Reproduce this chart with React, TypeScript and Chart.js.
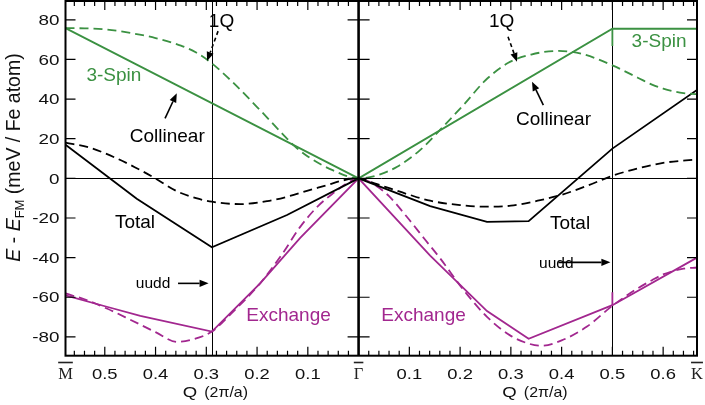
import React, { useEffect, useRef } from 'react';
import { Chart, registerables } from 'chart.js';

Chart.register(...registerables);

// ---- axis ranges (Q in 2π/a, M̄ on the left side, K̄ on the right, Γ̄ at 0) ----
const Q_M = -0.5774;
const Q_K = 0.6667;
const E_MIN = -89.5;
const E_MAX = 89.5;

// ---- series: Collinear / 3-Spin (green solid) ----
const collinearQ = [-0.5774, 0, 0.5, 0.6667];
const collinearE = [75.8, 0, 75.5, 75.5];
const spin3MarkQ = [0.5, 0.5];
const spin3MarkE = [75.5, 66.8];

// ---- 1Q (green dashed) ----
const oneQ_Q = [-0.5774, -0.54, -0.5, -0.45, -0.4, -0.35, -0.32, -0.289, -0.25, -0.2, -0.15, -0.125, -0.1, -0.05, 0,
  0.04, 0.076, 0.12, 0.154, 0.21, 0.25, 0.295, 0.34, 0.394, 0.44, 0.5, 0.55, 0.578, 0.6, 0.64, 0.6667];
const oneQ_E = [75.8, 75.7, 75.2, 73.4, 70.8, 67, 63.5, 58, 49, 36, 22.5, 16, 11, 4, 0,
  1.8, 5.9, 14, 22.7, 38, 49.5, 58.3, 62.5, 64.3, 62.8, 57, 50.8, 47.3, 45.3, 43, 42.5];

// ---- Total (black solid) ----
const totalQ = [-0.5774, -0.437, -0.289, -0.141, 0, 0.141, 0.253, 0.335, 0.5, 0.6667];
const totalE = [17, -10.3, -34.8, -18.5, 0, -14, -22, -21.6, 15, 44.6];

// ---- Total 1Q (black dashed) ----
const total1qQ = [-0.5774, -0.53, -0.48, -0.44, -0.404, -0.358, -0.32, -0.289, -0.233, -0.18, -0.141, -0.1, -0.062, -0.03, 0,
  0.03, 0.062, 0.1, 0.141, 0.2, 0.25, 0.3, 0.358, 0.4, 0.45, 0.5, 0.55, 0.6, 0.6667];
const total1qE = [18, 15.5, 10.5, 5.5, 0.5, -6.5, -10, -11.8, -13, -11.5, -9.3, -6.2, -3.4, -1, 0,
  -2.4, -5.1, -8.3, -11.3, -13.5, -14.3, -13.8, -11, -8.3, -3.8, 1.3, 5, 7.8, 9.6];

// ---- Exchange (magenta solid) ----
const exchQ = [-0.5774, -0.496, -0.43, -0.289, -0.194, -0.115, 0, 0.141, 0.253, 0.335, 0.5, 0.6667];
const exchE = [-59, -64.8, -69.4, -77.3, -53, -30, 0, -39, -67, -81, -64, -40];
const exchMarkQ = [0.5, 0.5];
const exchMarkE = [-64, -57.5];

// ---- Exchange 1Q (magenta dashed) ----
const exch1qQ = [-0.5774, -0.54, -0.496, -0.45, -0.4, -0.358, -0.32, -0.289, -0.25, -0.194, -0.15, -0.115, -0.08, -0.049, -0.02, 0,
  0.03, 0.06, 0.095, 0.13, 0.161, 0.207, 0.253, 0.3, 0.335, 0.36, 0.4, 0.45, 0.5, 0.55, 0.578, 0.6, 0.64, 0.6667];
const exch1qE = [-58.1, -61, -65.7, -71.3, -77.6, -82.5, -80.8, -77.3, -68, -53, -38, -24.5, -14, -7.3, -2, 0,
  -3, -9, -19.4, -30.6, -40.5, -56.4, -69.9, -79.5, -83.4, -84.5, -81.8, -74.8, -64.3, -55.5, -51.4, -48.5, -45.6, -45];

// ---- ticks ----
const guideQ = [-0.2887, 0.5];
const xMajorQ = [-0.5, -0.4, -0.3, -0.2, -0.1, 0.1, 0.2, 0.3, 0.4, 0.5, 0.6];
const xMajorLabels = ['0.5', '0.4', '0.3', '0.2', '0.1', '0.1', '0.2', '0.3', '0.4', '0.5', '0.6'];
const xPointQ = [-0.5774, 0, 0.6667];
const xPointLabels = ['M', 'Γ', 'K'];
const yTicks = [80, 60, 40, 20, 0, -20, -40, -60, -80];
const yTickLabels = ['80', '60', '40', '20', '0', '-20', '-40', '-60', '-80'];
const xTitleQ = [-0.3464, 0.2832];

// ---- annotations (text in data coordinates) ----
const GREEN = '#3b9142';
const MAGENTA = '#a2278f';
const BLACK = '#000000';

const annotations = [
  { text: '1Q', q: -0.27, e: 76.6, color: BLACK, size: 19 },
  { text: '1Q', q: 0.282, e: 76.4, color: BLACK, size: 19 },
  { text: 'Collinear', q: -0.377, e: 18.3, color: BLACK, size: 19 },
  { text: 'Collinear', q: 0.384, e: 26.9, color: BLACK, size: 19 },
  { text: '3-Spin', q: -0.482, e: 49.1, color: GREEN, size: 19 },
  { text: '3-Spin', q: 0.592, e: 66.1, color: GREEN, size: 19 },
  { text: 'Total', q: -0.4405, e: -25.1, color: BLACK, size: 19 },
  { text: 'Total', q: 0.4166, e: -25.6, color: BLACK, size: 19 },
  { text: 'uudd', q: -0.405, e: -55.4, color: BLACK, size: 15.5 },
  { text: 'uudd', q: 0.3896, e: -45.3, color: BLACK, size: 15.5 },
  { text: 'Exchange', q: -0.138, e: -72, color: MAGENTA, size: 19 },
  { text: 'Exchange', q: 0.128, e: -72, color: MAGENTA, size: 19 },
];

const arrows = [
  { from: [-0.2768, 74.3], to: [-0.2985, 59.2], dashed: true },
  { from: [0.2944, 71.5], to: [0.3121, 58.8], dashed: true },
  { from: [-0.3813, 30.3], to: [-0.3582, 42.9], dashed: false },
  { from: [0.364, 37.0], to: [0.3417, 48.7], dashed: false },
  { from: [-0.3557, -53], to: [-0.2955, -53], dashed: false },
  { from: [0.3935, -42.4], to: [0.4961, -42.4], dashed: false },
];

const SANS = '"Liberation Sans", Arial, Helvetica, sans-serif';
const SERIF = '"Liberation Serif", "Times New Roman", serif';

const pts = (qs: number[], es: number[]) => qs.map((q, i) => ({ x: q, y: es[i] }));

function stretchedText(ctx: CanvasRenderingContext2D, text: string, x: number, y: number, align: CanvasTextAlign, sx: number) {
  ctx.save();
  ctx.translate(x, y);
  ctx.scale(sx, 1);
  ctx.textAlign = align;
  ctx.textBaseline = 'alphabetic';
  ctx.fillText(text, 0, 0);
  ctx.restore();
}

function drawArrow(ctx: CanvasRenderingContext2D, x1: number, y1: number, x2: number, y2: number, dashed: boolean) {
  const ang = Math.atan2(y2 - y1, x2 - x1);
  const headLen = 9;
  const headW = 3.6;
  const bx = x2 - headLen * Math.cos(ang);
  const by = y2 - headLen * Math.sin(ang);
  ctx.save();
  ctx.strokeStyle = BLACK;
  ctx.fillStyle = BLACK;
  ctx.lineWidth = 1.6;
  ctx.setLineDash(dashed ? [4, 3] : []);
  ctx.beginPath();
  ctx.moveTo(x1, y1);
  ctx.lineTo(bx, by);
  ctx.stroke();
  ctx.setLineDash([]);
  ctx.beginPath();
  ctx.moveTo(x2, y2);
  ctx.lineTo(bx + headW * Math.sin(ang), by - headW * Math.cos(ang));
  ctx.lineTo(bx - headW * Math.sin(ang), by + headW * Math.cos(ang));
  ctx.closePath();
  ctx.fill();
  ctx.restore();
}

const figurePlugin = {
  id: 'figureAxes',
  beforeDatasetsDraw(chart: any) {
    const { ctx, chartArea: a } = chart;
    const xs = chart.scales.x;
    const ys = chart.scales.y;
    ctx.save();
    ctx.strokeStyle = '#000';
    ctx.lineWidth = 1;
    ctx.beginPath();
    const y0 = Math.round(ys.getPixelForValue(0)) + 0.5;
    ctx.moveTo(a.left, y0);
    ctx.lineTo(a.right, y0);
    for (const q of guideQ) {
      const px = Math.round(xs.getPixelForValue(q)) + 0.5;
      ctx.moveTo(px, a.top);
      ctx.lineTo(px, a.bottom);
    }
    ctx.stroke();
    ctx.restore();
  },
  afterDatasetsDraw(chart: any) {
    const { ctx, chartArea: a } = chart;
    const xs = chart.scales.x;
    const ys = chart.scales.y;
    const X = (q: number) => xs.getPixelForValue(q);
    const Y = (e: number) => ys.getPixelForValue(e);
    ctx.save();
    ctx.strokeStyle = '#000';
    ctx.fillStyle = '#000';

    // frame
    ctx.lineWidth = 2;
    ctx.strokeRect(a.left, a.top, a.right - a.left, a.bottom - a.top);
    // Γ axis
    const gx = X(0);
    ctx.lineWidth = 2.6;
    ctx.beginPath();
    ctx.moveTo(gx, a.top);
    ctx.lineTo(gx, a.bottom);
    ctx.stroke();

    // x ticks (major + minor every 0.02), bottom and top, inward
    ctx.lineWidth = 1.2;
    ctx.beginPath();
    for (let k = -28; k <= 33; k++) {
      if (k === 0) continue;
      const q = k * 0.02;
      const px = X(q);
      const major = k % 5 === 0;
      const len = major ? 9 : 5;
      ctx.moveTo(px, a.bottom);
      ctx.lineTo(px, a.bottom - len);
      ctx.moveTo(px, a.top);
      ctx.lineTo(px, a.top + len);
    }
    // y ticks: left, right, both sides of Γ
    for (const e of yTicks) {
      const py = Y(e);
      ctx.moveTo(a.left, py);
      ctx.lineTo(a.left + 10, py);
      ctx.moveTo(a.right, py);
      ctx.lineTo(a.right - 10, py);
      ctx.moveTo(gx - 11, py);
      ctx.lineTo(gx + 11, py);
    }
    ctx.stroke();

    // tick labels
    ctx.fillStyle = '#111';
    ctx.font = `14.5px ${SANS}`;
    xMajorQ.forEach((q, i) => stretchedText(ctx, xMajorLabels[i], X(q), 379, 'center', 1.27));
    yTicks.forEach((e, i) => stretchedText(ctx, yTickLabels[i], 59.5, Y(e) + 5.2, 'right', 1.3));

    // high-symmetry point labels with overline
    ctx.fillStyle = '#222';
    ctx.strokeStyle = '#222';
    ctx.font = `16.5px ${SERIF}`;
    ctx.textAlign = 'center';
    ctx.lineWidth = 1.6;
    xPointQ.forEach((q, i) => {
      const px = X(q);
      const w = ctx.measureText(xPointLabels[i]).width;
      ctx.fillText(xPointLabels[i], px, 378.5);
      ctx.beginPath();
      ctx.moveTo(px - w / 2, 362.5);
      ctx.lineTo(px + w / 2, 362.5);
      ctx.stroke();
    });

    // x axis titles
    ctx.fillStyle = '#111';
    ctx.font = `14.5px ${SANS}`;
    xTitleQ.forEach((q) => {
      const px = X(q);
      stretchedText(ctx, 'Q', px, 396.5, 'left', 1.28);
      stretchedText(ctx, '(2π/a)', px + 21.5, 396.5, 'left', 1.1);
    });

    // y axis title (rotated)
    ctx.save();
    const big = 19.5;
    const parts = [
      { t: 'E', f: `italic ${big}px ${SANS}`, dy: 0 },
      { t: ' - ', f: `${big}px ${SANS}`, dy: 0 },
      { t: 'E', f: `italic ${big}px ${SANS}`, dy: 0 },
      { t: 'FM', f: `13px ${SANS}`, dy: 4.5 },
      { t: ' (meV / Fe atom)', f: `${big}px ${SANS}`, dy: 0 },
    ];
    let total = 0;
    const widths = parts.map((p) => {
      ctx.font = p.f;
      const w = ctx.measureText(p.t).width;
      total += w;
      return w;
    });
    ctx.translate(19.5, 157.5 + total / 2);
    ctx.rotate(-Math.PI / 2);
    ctx.textAlign = 'left';
    ctx.textBaseline = 'alphabetic';
    let cx = 0;
    parts.forEach((p, i) => {
      ctx.font = p.f;
      ctx.fillText(p.t, cx, p.dy);
      cx += widths[i];
    });
    ctx.restore();

    // annotations
    ctx.textAlign = 'center';
    ctx.textBaseline = 'alphabetic';
    for (const an of annotations) {
      ctx.font = `${an.size}px ${SANS}`;
      ctx.fillStyle = an.color;
      ctx.fillText(an.text, X(an.q), Y(an.e));
    }
    for (const ar of arrows) {
      drawArrow(ctx, X(ar.from[0]), Y(ar.from[1]), X(ar.to[0]), Y(ar.to[1]), ar.dashed);
    }
    ctx.restore();
  },
};

export default function App() {
  const ref = useRef<HTMLCanvasElement>(null);
  useEffect(() => {
    const canvas = ref.current;
    if (!canvas) return;
    const solid = { pointRadius: 0, tension: 0, borderWidth: 1.8, fill: false };
    const dashed = { pointRadius: 0, cubicInterpolationMode: 'monotone', borderWidth: 1.8, borderDash: [9, 5], fill: false };
    const chart = new Chart(canvas, {
      type: 'line',
      data: {
        datasets: [
          { ...solid, data: pts(collinearQ, collinearE), borderColor: GREEN },
          { ...solid, data: pts(spin3MarkQ, spin3MarkE), borderColor: GREEN },
          { ...dashed, data: pts(oneQ_Q, oneQ_E), borderColor: GREEN },
          { ...solid, data: pts(totalQ, totalE), borderColor: BLACK },
          { ...dashed, data: pts(total1qQ, total1qE), borderColor: BLACK },
          { ...solid, data: pts(exchQ, exchE), borderColor: MAGENTA },
          { ...solid, data: pts(exchMarkQ, exchMarkE), borderColor: MAGENTA },
          { ...dashed, data: pts(exch1qQ, exch1qE), borderColor: MAGENTA },
        ] as any,
      },
      options: {
        responsive: false,
        animation: false,
        events: [],
        layout: { padding: { left: 65.5, right: 8, top: 1, bottom: 49.3 } },
        scales: {
          x: { type: 'linear', min: Q_M, max: Q_K, display: false },
          y: { type: 'linear', min: E_MIN, max: E_MAX, display: false },
        },
        plugins: { legend: { display: false }, tooltip: { enabled: false } },
      },
      plugins: [figurePlugin],
    });
    return () => chart.destroy();
  }, []);
  return (
    <div style={{ position: 'absolute', left: 0, top: 0, width: 705, height: 405, background: '#fff' }}>
      <canvas ref={ref} width={705} height={405} style={{ display: 'block', width: 705, height: 405 }} />
    </div>
  );
}
